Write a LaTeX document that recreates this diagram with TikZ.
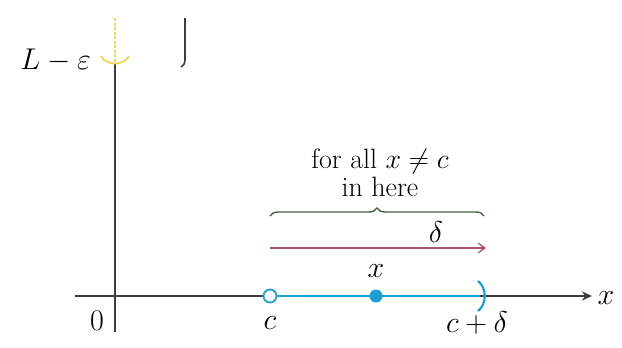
\RequirePackage{fix-cm}
\documentclass[tikz,border=0pt]{standalone}
\usetikzlibrary{arrows.meta,decorations.pathreplacing}
\definecolor{axisgray}{RGB}{60,60,60}
\definecolor{yel}{RGB}{235,215,90}
\definecolor{blu}{RGB}{30,160,210}
\definecolor{brgreen}{RGB}{70,95,70}
\definecolor{arrred}{RGB}{165,85,110}
\begin{document}
\begin{tikzpicture}[x=1pt,y=-1pt,
  lbl/.style={inner sep=0pt,font=\fontsize{30}{30}\selectfont},
  txtlbl/.style={inner sep=0pt,font=\fontsize{28}{28}\selectfont,anchor=base},
  axisline/.style={draw=axisgray,line width=1.6pt},
  bluseg/.style={draw=blu,line width=2.2pt}]
\useasboundingbox (0,0) rectangle (622,348);
% coordinates
\coordinate (ytop) at (115,18);
\coordinate (yeps) at (115,64);
\coordinate (ybot) at (115,332);
\coordinate (xl) at (75,296);
\coordinate (xr) at (592,296);
\coordinate (c) at (270,296);
\coordinate (cd) at (480,296);
% axes
\draw[axisline] (yeps) -- (ybot);
\draw[axisline,-{Stealth[length=10pt,width=9pt]}] (xl) -- (xr);
\draw[yel,line width=1.6pt,dashed,dash pattern=on 3pt off 1.5pt] (ytop) -- (yeps);
\draw[yel,line width=1.8pt] (101,56) .. controls (106,66) and (124,66) .. (129,56);
% right bracket at top
\draw[axisgray,line width=1.6pt] (185,18) -- (185,60) .. controls (185,64) and (183,66) .. (181,67);
% labels
\node[lbl,anchor=east] (le) at (91,60) {$L-\varepsilon$};
\node[lbl] (zero) at (97,321) {$0$};
\node[lbl] (xlab) at (606,298) {$x$};
% interval
\draw[bluseg] (c) -- (cd);
\draw[blu,line width=2.2pt] (478,281) .. controls (487,288) and (487,304) .. (478,311);
\node[circle,draw=blu,fill=white,line width=1.8pt,minimum size=13pt,inner sep=0pt] (copen) at (c) {};
\node[circle,fill=blu,minimum size=13pt,inner sep=0pt] (xdot) at (376,296) {};
\node[lbl] (clab) at (270,323) {$c$};
\node[lbl] (xl2) at (376,271) {$x$};
\node[lbl] (cdlab) at (477,323) {$c+\delta$};
% delta arrow
\coordinate (da) at (270,248);
\coordinate (db) at (486,248);
\draw[arrred,line width=1.2pt,-{Straight Barb[length=7pt,width=10pt]}] (da) -- (db);
\node[lbl] (dlab) at (436,232) {$\delta$};
% brace
\coordinate (ba) at (270,216);
\coordinate (bb) at (484,216);
\draw[brgreen,line width=1.4pt,decorate,decoration={brace,amplitude=8pt,raise=0pt}] (ba) -- (bb);
\node[txtlbl] (txt1) at (380,168) {for all $x\neq c$};
\node[txtlbl] (txt2) at (380,196) {in here};
\end{tikzpicture}
\end{document}
